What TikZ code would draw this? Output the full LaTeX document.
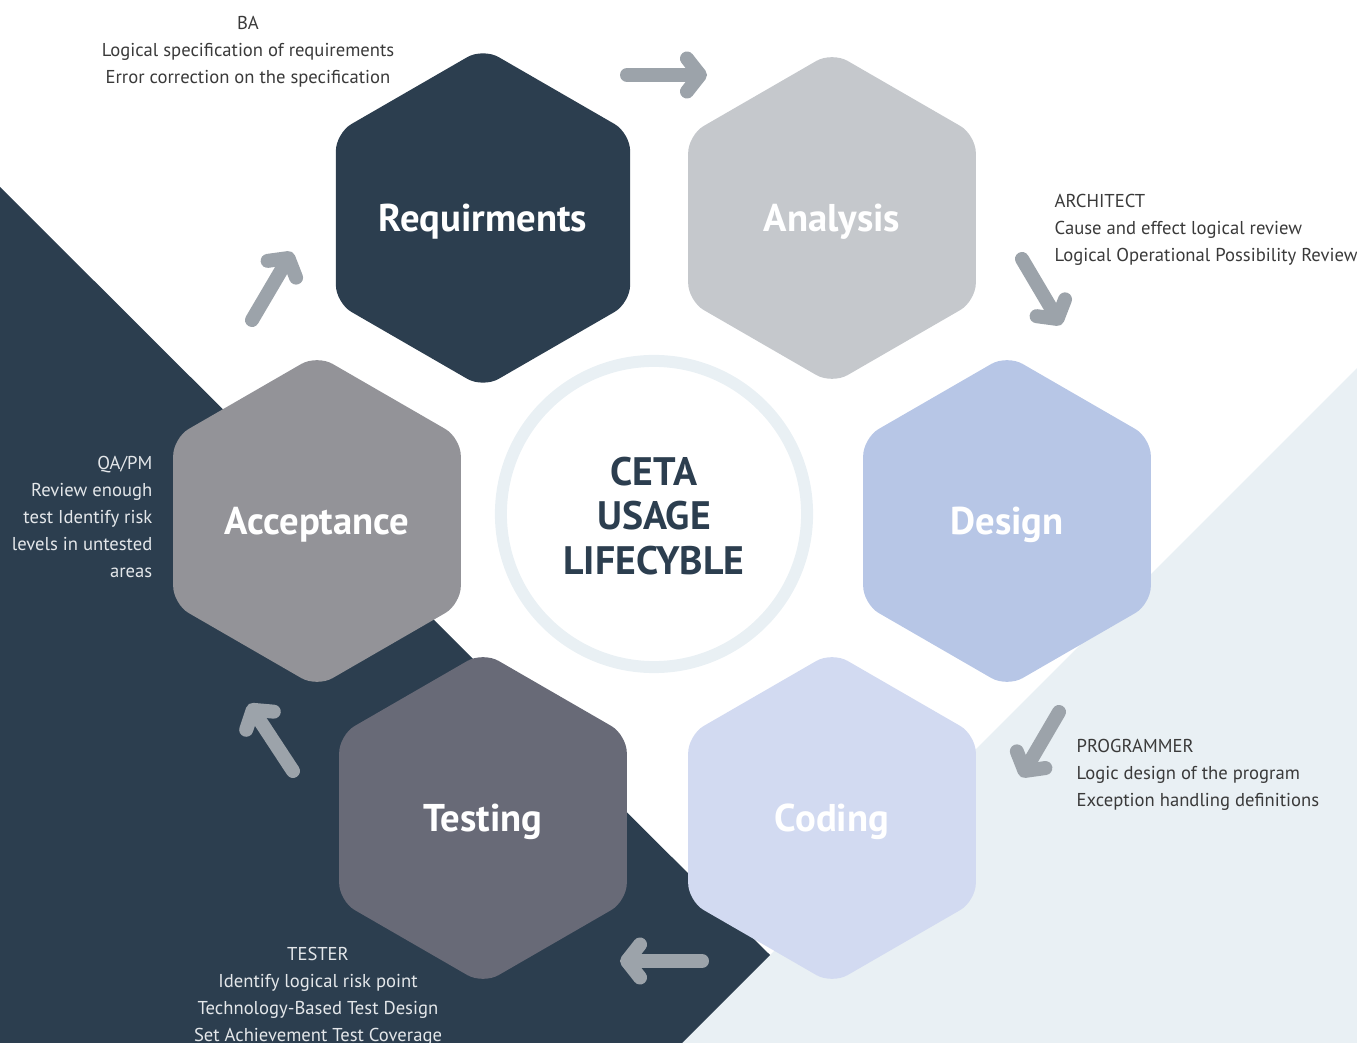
\documentclass[tikz,border=0pt]{standalone}
\usepackage{fontspec}
\setmainfont{PT Sans}
\usetikzlibrary{shapes.geometric,arrows.meta}

\definecolor{navy}{HTML}{2C3E4F}
\definecolor{palebg}{HTML}{E9F0F4}
\definecolor{anagray}{HTML}{C5C8CC}
\definecolor{desblue}{HTML}{B7C6E6}
\definecolor{codblue}{HTML}{D2DAF1}
\definecolor{tesgray}{HTML}{686A77}
\definecolor{accgray}{HTML}{939398}
\definecolor{flowgray}{HTML}{9CA3AA}
\definecolor{inkgray}{HTML}{3A3A3A}
\definecolor{lightink}{HTML}{E4E7EA}

\begin{document}
\begin{tikzpicture}[x=0.01cm,y=-0.01cm,
    hexa/.style={regular polygon, regular polygon sides=6, shape border rotate=30,
      minimum size=3.32cm, inner sep=0pt, rounded corners=0.18cm, text=white,
      text depth=0pt, font=\fontsize{11}{13}\selectfont\bfseries},
    flow/.style={line width=0.14cm, line cap=round, draw=flowgray,
      -{Straight Barb[length=0.13cm, width=0.33cm, round]}},
    note/.style={font=\fontsize{5.3}{7.7}\selectfont, text=inkgray, inner sep=0pt}]
  \useasboundingbox (0,0) rectangle (1357,1043);

  % background
  \fill[palebg] (1357,368) -- (682,1043) -- (1357,1043) -- cycle;
  \fill[navy] (0,187) -- (770,955) -- (682,1043) -- (0,1043) -- cycle;

  % centre
  \draw[palebg, line width=0.12cm] (654,514) circle (1.53cm);
  \node[align=center, text=navy, font=\fontsize{11.3}{12.7}\selectfont\bfseries] (hub) at (654,516) {CETA\\USAGE\\LIFECYBLE};

  % stages
  \node[hexa, fill=navy] (req) at (483,218) {Requirments};
  \node[hexa, fill=anagray] (ana) at (832,218) {Analysis};
  \node[hexa, fill=desblue] (des) at (1007,521) {Design};
  \node[hexa, fill=codblue] (cod) at (832,818) {Coding};
  \node[hexa, fill=tesgray] (tes) at (483,818) {Testing};
  \node[hexa, fill=accgray] (acc) at (317,521) {Acceptance};

  % arrows
  \coordinate (reqOut) at (627,75);   \coordinate (anaIn) at (707,75);
  \coordinate (anaOut) at (1022,259); \coordinate (desIn) at (1061,325);
  \coordinate (desOut) at (1059,712); \coordinate (codIn) at (1021,777);
  \coordinate (codOut) at (702,961);  \coordinate (tesIn) at (620,961);
  \coordinate (tesOut) at (293,771);  \coordinate (accIn) at (249,704);
  \coordinate (accOut) at (252,320);  \coordinate (reqIn) at (292,252);
  \draw[flow] (reqOut) -- (anaIn);
  \draw[flow] (anaOut) -- (desIn);
  \draw[flow] (desOut) -- (codIn);
  \draw[flow] (codOut) -- (tesIn);
  \draw[flow] (tesOut) -- (accIn);
  \draw[flow] (accOut) -- (reqIn);

  % roles
  \node[note, align=center] (baNote) at (248,52) {BA\\Logical specification of requirements\\Error correction on the specification};
  \node[note, align=left, anchor=west] (archNote) at (1054,230) {ARCHITECT\\Cause and effect logical review\\Logical Operational Possibility Review};
  \node[note, align=left, anchor=west] (progNote) at (1076,775) {PROGRAMMER\\Logic design of the program\\Exception handling definitions};
  \node[note, align=center, text=lightink] (testNote) at (318,996) {TESTER\\Identify logical risk point\\Technology-Based Test Design\\Set Achievement Test Coverage};
  \node[note, align=right, anchor=east, text=lightink] (qaNote) at (153,517) {QA/PM\\Review enough\\test Identify risk\\levels in untested\\areas};
\end{tikzpicture}
\end{document}
